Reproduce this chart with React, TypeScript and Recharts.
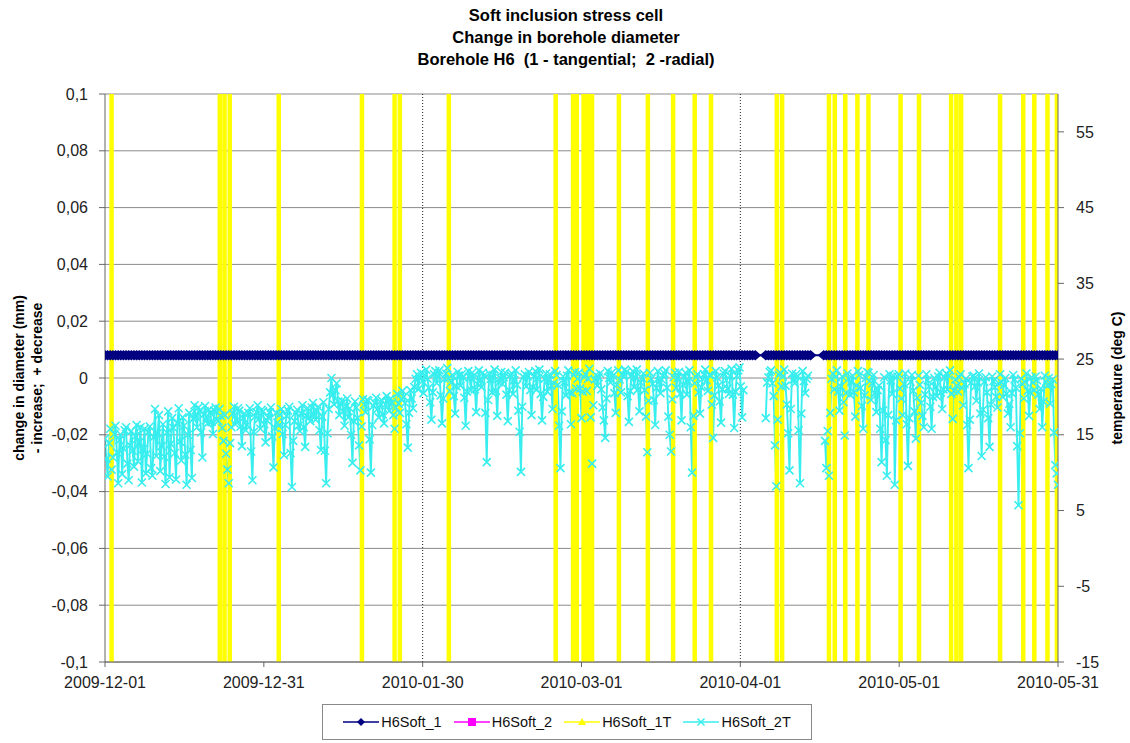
import {
  ComposedChart,
  Line,
  XAxis,
  YAxis,
  CartesianGrid,
  ReferenceLine
} from 'recharts';

// Borehole H6 soft inclusion cell, 2009-12-01 .. 2010-05-31
const FONT = '"Liberation Sans", Arial, sans-serif';

const xTickLabels = [
  '2009-12-01',
  '2009-12-31',
  '2010-01-30',
  '2010-03-01',
  '2010-04-01',
  '2010-05-01',
  '2010-05-31'
];
const SPAN_DAYS = 181;
const DIAM_STEP_DAYS = 0.5; // H6Soft_1 logged twice a day
const TEMP_STEP_DAYS = 0.25; // H6Soft_2T logged four times a day

const leftTicks = [-0.1, -0.08, -0.06, -0.04, -0.02, 0, 0.02, 0.04, 0.06, 0.08, 0.1];
const rightTicks = [-15, -5, 5, 15, 25, 35, 45, 55];

// H6Soft_1 : change in diameter (mm), left axis
const h6Soft1: (number | null)[] = [
  0.008, 0.008, 0.008, 0.008, 0.008, 0.008, 0.008, 0.008, 0.008, 0.008,
  0.008, 0.008, 0.008, 0.008, 0.008, 0.008, 0.008, 0.008, 0.008, 0.008,
  0.008, 0.008, 0.008, 0.008, 0.008, 0.008, 0.008, 0.008, 0.008, 0.008,
  0.008, 0.008, 0.008, 0.008, 0.008, 0.008, 0.008, 0.008, 0.008, 0.008,
  0.008, 0.008, 0.008, 0.008, 0.008, 0.008, 0.008, 0.008, 0.008, 0.008,
  0.008, 0.008, 0.008, 0.008, 0.008, 0.008, 0.008, 0.008, 0.008, 0.008,
  0.008, 0.008, 0.008, 0.008, 0.008, 0.008, 0.008, 0.008, 0.008, 0.008,
  0.008, 0.008, 0.008, 0.008, 0.008, 0.008, 0.008, 0.008, 0.008, 0.008,
  0.008, 0.008, 0.008, 0.008, 0.008, 0.008, 0.008, 0.008, 0.008, 0.008,
  0.008, 0.008, 0.008, 0.008, 0.008, 0.008, 0.008, 0.008, 0.008, 0.008,
  0.008, 0.008, 0.008, 0.008, 0.008, 0.008, 0.008, 0.008, 0.008, 0.008,
  0.008, 0.008, 0.008, 0.008, 0.008, 0.008, 0.008, 0.008, 0.008, 0.008,
  0.008, 0.008, 0.008, 0.008, 0.008, 0.008, 0.008, 0.008, 0.008, 0.008,
  0.008, 0.008, 0.008, 0.008, 0.008, 0.008, 0.008, 0.008, 0.008, 0.008,
  0.008, 0.008, 0.008, 0.008, 0.008, 0.008, 0.008, 0.008, 0.008, 0.008,
  0.008, 0.008, 0.008, 0.008, 0.008, 0.008, 0.008, 0.008, 0.008, 0.008,
  0.008, 0.008, 0.008, 0.008, 0.008, 0.008, 0.008, 0.008, 0.008, 0.008,
  0.008, 0.008, 0.008, 0.008, 0.008, 0.008, 0.008, 0.008, 0.008, 0.008,
  0.008, 0.008, 0.008, 0.008, 0.008, 0.008, 0.008, 0.008, 0.008, 0.008,
  0.008, 0.008, 0.008, 0.008, 0.008, 0.008, 0.008, 0.008, 0.008, 0.008,
  0.008, 0.008, 0.008, 0.008, 0.008, 0.008, 0.008, 0.008, 0.008, 0.008,
  0.008, 0.008, 0.008, 0.008, 0.008, 0.008, 0.008, 0.008, 0.008, 0.008,
  0.008, 0.008, 0.008, 0.008, 0.008, 0.008, 0.008, 0.008, 0.008, 0.008,
  0.008, 0.008, 0.008, 0.008, 0.008, 0.008, 0.008, 0.008, 0.008, 0.008,
  0.008, 0.008, 0.008, 0.008, 0.008, 0.008, 0.008, 0.008, null, null,
  null, 0.008, 0.008, 0.008, 0.008, 0.008, 0.008, 0.008, 0.008, 0.008,
  0.008, 0.008, 0.008, 0.008, 0.008, 0.008, 0.008, 0.008, 0.008, null,
  null, null, null, 0.008, 0.008, 0.008, 0.008, 0.008, 0.008, 0.008,
  0.008, 0.008, 0.008, 0.008, 0.008, 0.008, 0.008, 0.008, 0.008, 0.008,
  0.008, 0.008, 0.008, 0.008, 0.008, 0.008, 0.008, 0.008, 0.008, 0.008,
  0.008, 0.008, 0.008, 0.008, 0.008, 0.008, 0.008, 0.008, 0.008, 0.008,
  0.008, 0.008, 0.008, 0.008, 0.008, 0.008, 0.008, 0.008, 0.008, 0.008,
  0.008, 0.008, 0.008, 0.008, 0.008, 0.008, 0.008, 0.008, 0.008, 0.008,
  0.008, 0.008, 0.008, 0.008, 0.008, 0.008, 0.008, 0.008, 0.008, 0.008,
  0.008, 0.008, 0.008, 0.008, 0.008, 0.008, 0.008, 0.008, 0.008, 0.008,
  0.008, 0.008, 0.008, 0.008, 0.008, 0.008, 0.008, 0.008, 0.008, 0.008,
  0.008, 0.008, 0.008
];

// H6Soft_2T : temperature (deg C), right axis, 20 readings = 5 days per row
const h6Soft2T: (number | null)[] = [
  14.5, 11.8, 9.5, 13.9, 15.8, 10.4, 12.0, 15.1, 16.2, 12.7, 8.6, 14.3, 15.0, 9.8, 13.2, 15.6, 16.0, 11.2, 9.0, 13.6,
  15.5, 12.9, 10.8, 14.8, 16.3, 11.5, 14.0, 16.0, 8.7, 13.1, 15.8, 9.9, 12.5, 15.4, 16.1, 10.6, 9.6, 14.7, 18.4, 12.2,
  15.2, 17.6, 10.2, 13.5, 16.4, 12.1, 8.5, 15.3, 18.1, 9.4, 13.8, 17.2, 15.9, 12.6, 9.1, 16.6, 18.5, 14.1, 11.6, 17.3,
  16.2, 12.4, 8.4, 15.0, 17.9, 13.0, 9.3, 17.1, 18.9, 17.4, 16.0, 18.6, 18.2, 15.3, 12.0, 17.7, 18.8, 16.9, 16.5, 18.3,
  17.9, 16.7, 15.1, 18.2, 18.6, 17.0, 16.8, 18.4, 17.5, 15.9, 14.2, 17.6, 12.5, 10.4, 8.6, 13.9, 16.0, 17.8, 18.7, 16.4,
  16.9, 18.5, 18.2, 16.1, 13.5, 17.2, 17.8, 15.6, 16.3, 17.9, 18.5, 12.8, 9.0, 15.4, 17.4, 18.0, 18.9, 17.1, 15.8, 18.3,
  18.1, 16.4, 14.0, 16.9, 17.3, 18.0, 18.6, 14.8, 10.7, 15.9, 17.9, 16.6, 16.2, 17.7, 18.4, 15.1, 12.3, 16.3, 17.5, 18.2,
  18.7, 12.6, 8.1, 14.2, 16.8, 17.9, 18.3, 16.2, 15.5, 17.8, 18.9, 16.0, 13.4, 17.5, 18.5, 17.3, 16.8, 18.6, 19.2, 17.7,
  17.0, 18.2, 18.7, 15.6, 13.0, 17.4, 19.3, 12.9, 8.6, 15.2, 18.4, 20.6, 22.5, 20.3, 19.0, 20.9, 21.8, 19.4, 17.6, 19.1,
  19.5, 18.1, 16.2, 18.7, 19.8, 17.3, 18.5, 15.0, 11.3, 16.8, 19.4, 18.6, 17.2, 13.6, 10.3, 16.1, 19.7, 19.0, 18.0, 19.6,
  19.5, 14.4, 10.0, 16.3, 18.8, 19.2, 19.9, 18.4, 17.3, 18.9, 19.6, 17.7, 16.5, 19.0, 20.1, 19.3, 18.2, 19.8, 19.3, 17.6,
  15.8, 18.6, 20.4, 19.1, 17.9, 19.7, 20.8, 20.0, 19.2, 16.4, 13.3, 17.9, 20.9, 19.8, 18.5, 21.3, 22.4, 23.0, 21.0, 22.6,
  23.2, 22.1, 20.5, 22.8, 23.6, 22.4, 21.2, 19.3, 17.0, 20.6, 23.0, 23.4, 21.8, 22.7, 23.5, 20.2, 16.5, 19.8, 22.4, 23.1,
  23.8, 22.5, 20.8, 21.9, 22.9, 20.1, 17.8, 21.4, 23.3, 22.8, 21.5, 23.0, 22.6, 19.9, 16.2, 20.7, 23.4, 22.6, 20.9, 23.2,
  22.7, 21.0, 18.0, 21.7, 23.5, 22.3, 21.3, 23.2, 22.8, 17.9, 11.4, 19.6, 23.1, 22.4, 20.6, 22.9, 23.6, 20.8, 17.5, 21.9,
  22.5, 23.3, 21.7, 22.6, 23.2, 20.3, 16.8, 20.9, 22.9, 23.1, 20.4, 22.2, 23.5, 21.6, 18.2, 15.4, 10.1, 18.7, 22.6, 23.0,
  21.4, 22.7, 23.3, 20.9, 17.6, 21.3, 22.8, 23.4, 21.0, 22.5, 23.6, 20.4, 16.9, 20.0, 22.4, 23.1, 20.7, 22.2, 23.0, 21.5,
  18.4, 21.8, 23.4, 22.9, 21.6, 16.2, 10.6, 18.1, 22.7, 22.0, 20.2, 22.8, 23.5, 20.6, 16.4, 20.5, 22.9, 23.3, 21.1, 22.4,
  23.2, 21.1, 17.2, 20.7, 22.6, 23.0, 20.8, 22.4, 23.7, 17.3, 11.2, 18.9, 22.3, 22.9, 21.5, 22.6, 23.1, 21.0, 18.6, 16.9,
  14.6, 19.8, 23.4, 22.5, 21.9, 23.2, 22.8, 20.5, 17.9, 21.6, 23.5, 22.3, 20.6, 23.0, 22.7, 23.6, 23.3, 20.1, 16.7, 20.8,
  22.9, 23.4, 21.3, 22.6, 23.6, 21.0, 18.1, 21.9, 22.5, 23.1, 20.9, 17.4, 12.7, 19.5, 23.2, 22.4, 21.7, 19.6, 16.3, 21.2,
  23.4, 22.0, 20.5, 22.3, 22.8, 23.1, 23.5, 21.2, 17.4, 15.0, 12.8, 19.7, 22.6, 23.2, 21.2, 22.5, 23.3, 20.4, 16.9, 21.6,
  22.7, 23.2, 20.3, 22.1, 23.5, 16.0, 10.0, 17.5, 21.8, 22.6, 23.0, 20.6, 17.8, 21.3, 22.4, 23.0, 23.6, 22.2, 20.8, 22.9,
  22.9, 19.0, 14.6, 20.2, 23.4, 22.6, 21.5, 19.4, 16.6, 21.0, 23.1, 23.4, 22.2, 21.1, 20.4, 22.8, 23.7, 20.3, 15.9, 20.7,
  22.8, 23.5, 23.9, 21.4, 17.3, 20.9, null, null, null, null, null, null, null, null, null, null, null, null, null, null,
  null, null, 17.2, 21.9, 22.6, 23.3, 23.5, 21.8, 20.1, 13.6, 8.2, 17.0, 22.9, 23.2, 21.4, 22.7, 23.6, 21.5, 19.0, 15.2,
  10.3, 18.4, 23.1, 22.3, 21.8, 23.0, 22.7, 15.6, 8.6, 17.8, 23.4, 22.1, 20.5, 22.4, 22.8, null, null, null, null, null,
  null, null, null, null, null, null, null, 14.2, 10.6, 15.5, 9.6, 17.9, 22.4, 23.1, 21.0, 22.6, 23.5, 20.7, 18.2, 21.4,
  22.7, 19.3, 14.9, 20.5, 23.1, 22.4, 20.3, 22.0, 22.8, 20.6, 17.4, 21.5, 23.4, 22.9, 21.2, 18.8, 15.8, 20.2, 22.5, 23.3,
  23.2, 22.1, 19.6, 21.8, 22.9, 20.5, 18.0, 20.9, 21.5, 15.8, 11.4, 18.2, 22.6, 14.3, 9.6, 17.6, 23.0, 22.2, 20.4, 22.8,
  8.4, 16.9, 22.7, 23.0, 21.1, 19.8, 17.6, 21.7, 23.1, 16.4, 10.9, 17.2, 22.0, 22.9, 20.8, 18.1, 14.5, 19.9, 22.8, 21.6,
  19.2, 17.5, 16.0, 20.3, 23.0, 22.2, 21.4, 18.7, 15.8, 20.0, 22.5, 21.3, 20.1, 22.7, 23.2, 20.6, 18.4, 21.0, 22.6, 23.1,
  21.0, 22.8, 23.5, 20.4, 17.1, 20.8, 22.3, 21.5, 20.7, 22.6, 23.0, 21.2, 18.9, 21.7, 22.4, 16.3, 10.6, 17.0, 21.9, 22.7,
  22.8, 21.4, 19.5, 21.9, 23.1, 17.8, 12.2, 18.3, 22.0, 22.6, 20.6, 17.2, 13.4, 19.0, 22.7, 22.1, 21.3, 20.0, 18.6, 21.8,
  23.0, 21.9, 20.0, 21.6, 22.5, 20.4, 17.8, 19.1, 16.0, 20.5, 22.9, 22.3, 21.2, 13.5, 5.7, 15.2, 22.4, 21.7, 19.8, 22.0,
  23.1, 20.8, 17.5, 20.6, 22.6, 21.9, 20.9, 22.7, 22.2, 20.3, 18.4, 21.1, 16.0, 19.4, 22.8, 22.0, 21.5, 22.5, 19.1, 21.7,
  22.3, 15.3, 11.0, 9.9, 8.4
];

// H6Soft_1T : off-scale readings, only the jumps cross the plot
const h6Soft1TJumpDays = [
  1.25, 21.8, 22.7, 23.7, 33.0, 48.8, 55.0, 56.0, 65.3, 85.6,
  88.9, 89.6, 90.9, 91.7, 92.5, 97.6, 103.1, 107.9, 112.0, 115.1,
  127.6, 128.6, 137.5, 138.6, 140.6, 142.9, 145.0, 151.1, 154.6, 160.7,
  161.7, 162.6, 170.0, 174.4, 176.5, 179.0, 180.8
];
const h6Soft1TLevels = [
  -40, 90, -40, 90, -40, 90, -40, 90, -40, 90,
  -40, 90, -40, 90, -40, 90, -40, 90, -40, 90,
  -40, 90, -40, 90, -40, 90, -40, 90, -40, 90,
  -40, 90, -40, 90, -40, 90, -40, 90
];

const xTicks = xTickLabels.map((_, i) => (i * SPAN_DAYS) / (xTickLabels.length - 1));

const navyData = h6Soft1.map((v, i) => ({ day: i * DIAM_STEP_DAYS, v }));
const cyanData = h6Soft2T.map((t, i) => ({ day: i * TEMP_STEP_DAYS, t }));
const yellowData = h6Soft1TJumpDays.flatMap((day, i) => [
  { day, t: h6Soft1TLevels[i] },
  { day, t: h6Soft1TLevels[i + 1] }
]);

const CYAN = '#38EEEE';
const formatComma = (v: number) => String(Number(v.toFixed(2))).replace('.', ',');

const renderDiamond = (props: any) => {
  const { cx, cy, index } = props;
  if (cx == null || cy == null) return <g key={`d${index}`} />;
  return (
    <path
      key={`d${index}`}
      d={`M${cx},${cy - 5.2}L${cx + 6},${cy}L${cx},${cy + 5.2}L${cx - 6},${cy}Z`}
      fill="#000080"
    />
  );
};

const renderCross = (props: any) => {
  const { cx, cy, index } = props;
  if (cx == null || cy == null) return <g key={`c${index}`} />;
  const s = 4;
  return (
    <path
      key={`c${index}`}
      d={`M${cx - s},${cy - s}L${cx + s},${cy + s}M${cx - s},${cy + s}L${cx + s},${cy - s}`}
      stroke={CYAN}
      strokeWidth={1.6}
      fill="none"
    />
  );
};

const leftTitle = () => (
  <text
    transform="translate(24,378) rotate(-90)"
    textAnchor="middle"
    fontSize={14}
    fontWeight="bold"
    fill="#000"
  >
    <tspan x={0} dy={0}>change in diameter (mm)</tspan>
    <tspan x={0} dy={18} xmlSpace="preserve">{'- increase;  + decrease'}</tspan>
  </text>
);

const rightTitle = () => (
  <text
    transform="translate(1122,378) rotate(-90)"
    textAnchor="middle"
    fontSize={14}
    fontWeight="bold"
    fill="#000"
  >
    temperature (deg C)
  </text>
);

const legendItems = [
  { name: 'H6Soft_1', color: '#000080', marker: 'diamond' },
  { name: 'H6Soft_2', color: '#FF00FF', marker: 'square' },
  { name: 'H6Soft_1T', color: '#FFFF00', marker: 'triangle' },
  { name: 'H6Soft_2T', color: CYAN, marker: 'cross' }
];

function LegendMarker({ color, marker }: { color: string; marker: string }) {
  return (
    <svg width={36} height={12} style={{ display: 'block' }}>
      <line x1={0} y1={6} x2={36} y2={6} stroke={color} strokeWidth={1.5} />
      {marker === 'diamond' && <path d="M18,2L22,6L18,10L14,6Z" fill={color} />}
      {marker === 'square' && <rect x={14} y={2} width={8} height={8} fill={color} />}
      {marker === 'triangle' && <path d="M18,2L22,9L14,9Z" fill={color} />}
      {marker === 'cross' && (
        <path d="M14.5,2.5L21.5,9.5M14.5,9.5L21.5,2.5" stroke={color} strokeWidth={1.5} />
      )}
    </svg>
  );
}

export default function App() {
  return (
    <div
      style={{
        position: 'absolute',
        left: 0,
        top: 0,
        width: 1130,
        height: 743,
        background: '#fff',
        fontFamily: FONT,
        overflow: 'hidden'
      }}
    >
      <div
        style={{
          position: 'absolute',
          top: 4,
          left: 0,
          width: 1132,
          textAlign: 'center',
          fontWeight: 'bold',
          fontSize: 16.5,
          lineHeight: '22px',
          whiteSpace: 'pre',
          color: '#000'
        }}
      >
        <div>Soft inclusion stress cell</div>
        <div>Change in borehole diameter</div>
        <div>{'Borehole H6  (1 - tangential;  2 -radial)'}</div>
      </div>

      <ComposedChart
        width={1130}
        height={743}
        margin={{ top: 94, right: 0, left: 0, bottom: 51 }}
        style={{ position: 'absolute', left: 0, top: 0 }}
      >
        <CartesianGrid yAxisId="left" vertical={false} stroke="#8a8a8a" strokeWidth={1} />
        <XAxis
          type="number"
          dataKey="day"
          domain={[0, SPAN_DAYS]}
          ticks={xTicks}
          interval={0}
          allowDataOverflow
          height={30}
          tickSize={5}
          tickMargin={10}
          tick={{ fontSize: 16, fill: '#222' }}
          tickFormatter={(_v: number, i: number) => xTickLabels[i]}
          stroke="#666"
        />
        <YAxis
          yAxisId="left"
          width={105}
          domain={[-0.1, 0.1]}
          ticks={leftTicks}
          interval={0}
          tickSize={6}
          tickMargin={11}
          tick={{ fontSize: 16, fill: '#222' }}
          tickFormatter={formatComma}
          stroke="#666"
          label={leftTitle}
        />
        <YAxis
          yAxisId="right"
          orientation="right"
          width={72}
          domain={[-15, 60]}
          ticks={rightTicks}
          interval={0}
          allowDataOverflow
          tickSize={6}
          tickMargin={12}
          tick={{ fontSize: 16, fill: '#222', textAnchor: 'start' }}
          stroke="#666"
          label={rightTitle}
        />
        <ReferenceLine yAxisId="left" x={xTicks[2]} stroke="#222" strokeDasharray="1 2" />
        <ReferenceLine yAxisId="left" x={xTicks[4]} stroke="#222" strokeDasharray="1 2" />
        <Line
          yAxisId="left"
          data={navyData}
          dataKey="v"
          name="H6Soft_1"
          type="linear"
          stroke="#000080"
          strokeWidth={2}
          dot={renderDiamond}
          connectNulls
          isAnimationActive={false}
        />
        <Line
          yAxisId="right"
          data={cyanData}
          dataKey="t"
          name="H6Soft_2T"
          type="linear"
          stroke={CYAN}
          strokeWidth={1.9}
          dot={renderCross}
          isAnimationActive={false}
        />
        <Line
          yAxisId="right"
          data={yellowData}
          dataKey="t"
          name="H6Soft_1T"
          type="linear"
          stroke="#FFFF00"
          strokeWidth={4.5}
          dot={false}
          isAnimationActive={false}
        />
      </ComposedChart>

      <div
        style={{
          position: 'absolute',
          left: 322,
          top: 704,
          width: 490,
          height: 36,
          border: '1px solid #888',
          display: 'flex',
          alignItems: 'center',
          justifyContent: 'center',
          gap: 12,
          fontSize: 14.5,
          color: '#111',
          boxSizing: 'border-box'
        }}
      >
        {legendItems.map((it) => (
          <div key={it.name} style={{ display: 'flex', alignItems: 'center', gap: 2 }}>
            <LegendMarker color={it.color} marker={it.marker} />
            <span>{it.name}</span>
          </div>
        ))}
      </div>
    </div>
  );
}
